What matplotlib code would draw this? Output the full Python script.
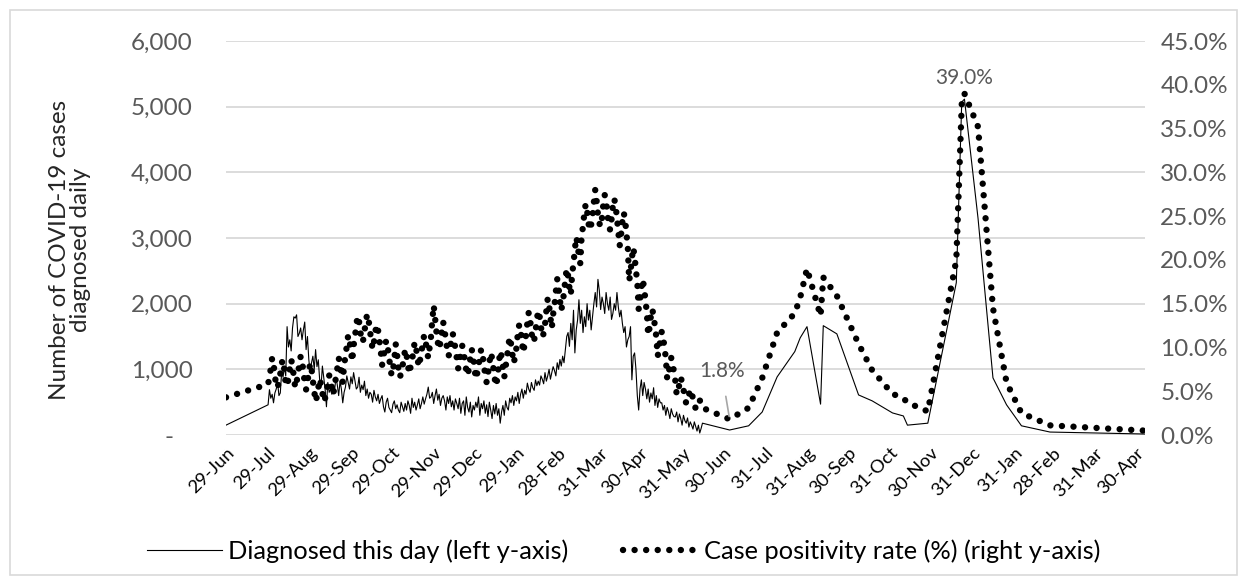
import matplotlib
matplotlib.use("Agg")
import matplotlib.pyplot as plt
from matplotlib.lines import Line2D
from matplotlib.patches import Rectangle
import pandas as pd

plt.rcParams['font.family'] = ['Lato', 'DejaVu Sans']

# ---------------- data ----------------
# first observation before daily reporting
start_dates = ["2020-06-29"]
start_cases = [150]
start_pos = [4.3]

# daily observations 30-Jul-2020 .. 15-Jun-2021
daily_first = "2020-07-30"
daily_cases = [
    460, 690, 560, 620, 490, 640, 700, 800, 600, 640,
    960, 880, 1040, 900, 1650, 1340, 1450, 1280, 1630, 1800,
    1780, 1830, 1500, 1550, 1630, 1450, 1600, 1720, 1300, 1500,
    1150, 950, 1100, 1200, 1000, 1300, 1040, 1145, 840, 730,
    1050, 880, 700, 430, 800, 650, 700, 620, 750, 680,
    880, 760, 600, 820, 700, 490, 650, 730, 900, 800,
    700, 885, 780, 950, 820, 700, 730, 880, 650, 760,
    690, 820, 600, 700, 560, 650, 620, 500, 680, 580,
    520, 620, 480, 550, 600, 430, 350, 500, 560, 420,
    380, 340, 470, 520, 400, 460, 380, 340, 500, 430,
    360, 480, 380, 520, 450, 330, 560, 420, 500, 380,
    460, 550, 400, 480, 580, 470, 550, 620, 730, 560,
    580, 650, 480, 600, 700, 530, 620, 450, 560, 600,
    520, 380, 580, 480, 600, 430, 520, 380, 550, 480,
    400, 560, 330, 480, 520, 300, 580, 420, 350, 500,
    275, 450, 380, 500, 420, 580, 300, 480, 400, 520,
    330, 460, 280, 500, 380, 250, 450, 320, 480, 300,
    400, 180, 350, 450, 300, 520, 420, 380, 560, 490,
    600, 450, 580, 520, 650, 480, 620, 700, 560, 680,
    620, 790, 700, 650, 800, 720, 680, 840, 750, 820,
    760, 900, 850, 780, 950, 820, 900, 1000, 850, 950,
    1040, 980, 900, 1100, 1000, 1150, 1050, 1200, 1100, 1300,
    1500, 1560, 1350, 1700, 1450, 1900, 1250, 1600, 1750, 2060,
    1700, 1900, 1560, 1800, 1650, 2000, 1750, 1900, 1600, 1800,
    2000, 2170, 1950, 2370, 2200, 1910, 2100, 2000, 1850, 2170,
    2000, 1900, 2100, 1760, 1850, 2000, 1900, 2170, 1950, 1800,
    1900, 1700, 1560, 1650, 1340, 1450, 1500, 1650, 840, 1200,
    1250, 1000, 600, 380, 700, 840, 600, 800, 700, 550,
    700, 500, 640, 550, 720, 450, 600, 420, 550, 490,
    490, 380, 450, 300, 420, 350, 250, 400, 320, 280,
    275, 350, 200, 320, 250, 150, 300, 220, 180, 260,
    120, 200, 150, 90, 200, 130, 60, 150, 30, 100,
    180,
]
# positivity (%), one row per week
daily_pos = [
    5.8, 6.6, 7.6, 8.8, 8.2, 6.8, 5.6,
    5.4, 6.2, 7.0, 8.2, 8.6, 7.4, 5.8,
    5.6, 6.4, 7.6, 8.6, 8.0, 6.6, 5.4,
    6.0, 7.0, 8.0, 9.0, 8.6, 7.2, 6.0,
    5.2, 6.0, 7.2, 8.2, 7.6, 6.2, 5.0,
    3.8, 4.4, 5.4, 6.4, 5.8, 4.8, 3.8,
    4.2, 5.0, 5.8, 6.8, 6.4, 5.4, 4.6,
    5.6, 6.6, 7.6, 8.8, 8.2, 7.0, 6.0,
    8.0, 9.0, 10.2, 11.4, 10.8, 9.6, 8.4,
    10.2, 11.2, 12.6, 13.6, 13.0, 11.8, 10.6,
    10.8, 11.8, 13.0, 13.8, 13.2, 12.0, 10.8,
    9.8, 10.6, 11.8, 12.6, 12.0, 10.8, 9.6,
    8.0, 8.8, 10.0, 10.8, 10.2, 9.0, 7.8,
    6.8, 7.4, 8.6, 10.4, 9.2, 7.6, 6.6,
    7.0, 7.8, 8.8, 9.8, 9.2, 8.0, 7.0,
    7.8, 8.4, 9.6, 10.6, 10.0, 8.8, 7.8,
    8.6, 9.4, 10.6, 11.4, 10.8, 9.6, 8.8,
    10.0, 11.2, 13.2, 14.8, 13.4, 11.8, 10.6,
    9.8, 10.6, 11.8, 12.9, 12.0, 10.8, 9.8,
    9.0, 9.8, 10.8, 11.6, 11.0, 9.8, 8.8,
    7.6, 8.2, 9.4, 10.2, 9.6, 8.4, 7.4,
    6.8, 7.6, 8.8, 9.8, 9.0, 7.8, 6.4,
    7.0, 7.8, 9.0, 9.8, 9.2, 8.0, 6.8,
    6.0, 7.0, 8.2, 9.4, 8.8, 7.6, 6.4,
    5.6, 6.6, 8.2, 9.6, 9.0, 7.8, 6.6,
    7.8, 8.8, 10.2, 11.2, 10.4, 9.2, 8.2,
    9.0, 10.0, 11.6, 12.6, 12.0, 10.6, 9.4,
    10.4, 11.4, 12.8, 14.0, 13.2, 11.8, 10.6,
    10.8, 11.8, 13.2, 14.2, 13.6, 12.4, 11.2,
    11.6, 12.6, 14.2, 15.6, 14.8, 13.4, 12.2,
    13.8, 14.8, 16.4, 17.8, 16.8, 15.4, 14.2,
    15.2, 16.2, 17.8, 19.0, 18.2, 16.8, 16.0,
    18.4, 19.6, 21.2, 22.6, 21.8, 20.4, 19.6,
    22.8, 23.8, 25.4, 26.4, 25.6, 24.2, 23.4,
    24.0, 25.0, 26.6, 28.0, 26.8, 25.2, 24.2,
    23.8, 24.8, 26.4, 27.4, 26.8, 25.2, 24.0,
    23.4, 24.6, 26.2, 27.0, 26.2, 24.8, 23.2,
    21.6, 22.8, 24.4, 25.4, 24.6, 23.0, 21.4,
    17.6, 18.6, 20.2, 21.4, 20.4, 18.8, 17.4,
    14.4, 15.2, 16.8, 17.8, 16.8, 15.4, 14.0,
    11.4, 12.2, 13.6, 14.4, 13.6, 12.4, 11.2,
    9.0, 9.8, 11.0, 11.8, 11.2, 10.0, 8.8,
    6.4, 7.0, 8.0, 8.8, 8.2, 7.2, 6.2,
    4.6, 5.0, 5.8, 6.6, 6.0, 5.2, 4.4,
    3.6, 4.0, 4.6, 5.2, 4.8, 4.2, 3.6,
    3.0, 3.2, 3.6, 4.0, 3.4, 3.1,
]

# sparse observations after mid-2021
late_dates = ["2021-07-05", "2021-07-19", "2021-07-29", "2021-08-09", "2021-08-22",
              "2021-08-26", "2021-08-31", "2021-09-10", "2021-09-12", "2021-09-22",
              "2021-10-08", "2021-10-18", "2021-11-02", "2021-11-10", "2021-11-13",
              "2021-11-28", "2021-12-19", "2021-12-23", "2021-12-25", "2022-01-04",
              "2022-01-15", "2022-01-25", "2022-02-05", "2022-02-26", "2022-05-07"]
late_cases = [76, 140, 350, 885, 1270,
              1480, 1650, 470, 1665, 1540,
              610, 520, 336, 290, 150,
              180, 2320, 5070, 5115, 3300,
              870, 460, 140, 45, 15]
late_pos = [1.8, 3.1, 6.5, 11.7, 13.9,
            15.7, 19.0, 13.6, 18.0, 15.9,
            10.4, 7.4, 4.7, 4.2, 3.7,
            2.7, 20.0, 37.8, 39.0, 35.2,
            14.5, 6.0, 2.5, 1.1, 0.5]

tick_dates = ["2020-06-29", "2020-07-29", "2020-08-29", "2020-09-29", "2020-10-29",
              "2020-11-29", "2020-12-29", "2021-01-29", "2021-02-28", "2021-03-31",
              "2021-04-30", "2021-05-31", "2021-06-30", "2021-07-31", "2021-08-31",
              "2021-09-30", "2021-10-31", "2021-11-30", "2021-12-31", "2022-01-31",
              "2022-02-28", "2022-03-31", "2022-04-30"]
tick_labels = ["29-Jun", "29-Jul", "29-Aug", "29-Sep", "29-Oct", "29-Nov", "29-Dec",
               "29-Jan", "28-Feb", "31-Mar", "30-Apr", "31-May", "30-Jun", "31-Jul",
               "31-Aug", "30-Sep", "31-Oct", "30-Nov", "31-Dec", "31-Jan", "28-Feb",
               "31-Mar", "30-Apr"]

left_ticks = [0, 1000, 2000, 3000, 4000, 5000, 6000]
right_ticks = [0, 5, 10, 15, 20, 25, 30, 35, 40, 45]

label_max = ("2021-12-25", 39.0, "39.0%")
label_min = ("2021-07-05", 1.8, "1.8%")

# ---------------- build series ----------------
daily_dates = pd.date_range(daily_first, periods=len(daily_cases), freq="D")
dates = list(pd.to_datetime(start_dates)) + list(daily_dates) + list(pd.to_datetime(late_dates))
cases = start_cases + daily_cases + late_cases
pos = start_pos + daily_pos + late_pos

# ---------------- figure ----------------
W, H = 1247, 585
fig = plt.figure(figsize=(W / 100, H / 100), dpi=100)
ax = fig.add_axes([226 / W, 1 - 435 / H, (1145 - 226) / W, (435 - 41) / H])
ax2 = ax.twinx()

grid_c = "#D9D9D9"
tick_c = "#595959"
dot_lw = 4.6
dot_style = (0, (0.01, 1.8))

ax.plot(dates, cases, color="black", lw=0.8, zorder=3)
ax2.plot(dates, pos, color="black", lw=dot_lw, linestyle=dot_style,
         dash_capstyle="round", zorder=3)

ax.set_xlim(pd.Timestamp("2020-06-29"), pd.Timestamp("2022-05-07"))
ax.set_ylim(0, 6000)
ax2.set_ylim(0, 45)

ax.set_yticks(left_ticks)
ax.set_yticklabels(["-   " if v == 0 else f"{v:,}" for v in left_ticks])
ax2.set_yticks(right_ticks)
ax2.set_yticklabels([f"{v:.1f}%" for v in right_ticks])

ax.set_xticks(pd.to_datetime(tick_dates))
ax.set_xticklabels(tick_labels, rotation=45, ha="right", va="top", rotation_mode="anchor")

ax.grid(axis="y", color=grid_c, lw=1.3)
ax.set_axisbelow(True)
for a in (ax, ax2):
    for s in a.spines.values():
        s.set_visible(False)
ax.tick_params(axis="both", length=0)
ax2.tick_params(axis="both", length=0)
ax.tick_params(axis="y", labelsize=17.5, labelcolor=tick_c, pad=24)
ax2.tick_params(axis="y", labelsize=17.5, labelcolor=tick_c, pad=11)
ax.tick_params(axis="x", labelsize=13.3, labelcolor="black", pad=7)

# annotations
ax2.annotate(label_max[2], xy=(pd.Timestamp(label_max[0]), label_max[1]),
             xytext=(0, 16), textcoords="offset pixels", ha="center", va="center",
             fontsize=15, color=tick_c)
ax2.annotate(label_min[2], xy=(pd.Timestamp(label_min[0]), label_min[1]),
             xytext=(-8, 48), textcoords="offset pixels", ha="center", va="center",
             fontsize=15, color=tick_c,
             arrowprops=dict(arrowstyle="-", color="#A6A6A6", lw=1.2,
                             shrinkA=9, shrinkB=2))

# axis title
fig.text(70 / W, 1 - 250 / H, "Number of COVID-19 cases\ndiagnosed daily",
         rotation=90, ha="center", va="center", multialignment="center",
         fontsize=17.5, color="#262626", linespacing=1.05)

# legend
h1 = Line2D([], [], color="black", lw=0.8)
h2 = Line2D([], [], color="black", lw=dot_lw, linestyle=dot_style, dash_capstyle="round")
fig.legend([h1, h2], ["Diagnosed this day (left y-axis)", "Case positivity rate (%) (right y-axis)"],
           loc="center", bbox_to_anchor=(0.5, 1 - 551 / H), ncol=2, frameon=False,
           fontsize=18.3, handlelength=2.95, handletextpad=0.25, columnspacing=2.15)

# outer border
fig.patches.append(Rectangle((10 / W, 10 / H), (W - 20) / W, (H - 20) / H,
                             transform=fig.transFigure, fill=False,
                             edgecolor=grid_c, lw=1.2))

fig.savefig("out.png", dpi=100)
